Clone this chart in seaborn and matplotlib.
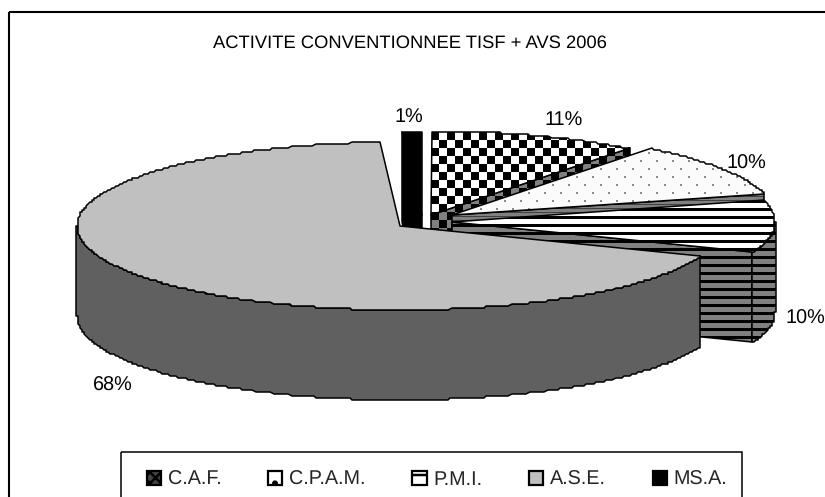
import numpy as np
import seaborn as sns
import matplotlib
matplotlib.use("Agg")
import matplotlib.pyplot as plt
from matplotlib.patches import Polygon, Rectangle, Patch

# ---- data ----
title = "ACTIVITE CONVENTIONNEE TISF + AVS 2006"
categories = ["C.A.F.", "C.P.A.M.", "P.M.I.", "A.S.E.", "MS.A."]
values = [10.6, 10.3, 10.1, 68, 1]

# ---- layout / style ----
W, H = 825, 497
RX, RY, DEPTH = 323, 84, 90
apex = [(431, 215), (452, 215), (452, 222), (400, 226), (422, 215)]
label_pos = [(564, 121), (746, 164), (805, 319), (113, 386), (409, 118)]
draw_order = [4, 0, 1, 2, 3]

sns.set_theme(style="white")
plt.rcParams["font.family"] = ["Liberation Sans", "DejaVu Sans"]
plt.rcParams["text.hinting"] = "no_hinting"
plt.rcParams["hatch.linewidth"] = 1.8
FS_TITLE, FS_LABEL, FS_LEGEND = 13.2, 14.3, 14.2

fig = plt.figure(figsize=(W / 100, H / 100), dpi=100, facecolor="white")
ax = fig.add_axes([0, 0, 1, 1])
ax.axis("off")

yy, xx = np.mgrid[0:H, 0:W]


def solid(c):
    return np.broadcast_to(np.array(matplotlib.colors.to_rgb(c)), (H, W, 3))


def two(mask, c1, c2):
    a = np.zeros((H, W, 3))
    a[mask] = matplotlib.colors.to_rgb(c1)
    a[~mask] = matplotlib.colors.to_rgb(c2)
    return a


check = ((xx - 431) // 8 + (yy - 132) // 8) % 2 == 0
stripe = (yy % 8) < 3
stripe_side = (yy % 8) < 3
dots = (((yy % 8) < 2) & (((xx + 8 * (yy // 8 % 2)) % 16) < 2))
row_side = (yy % 4) < 1

top_fill = [
    two(check, "black", "white"),
    two(dots, "#8a8a8a", "#fbfbfb"),
    two(stripe, "black", "white"),
    solid("#C0C0C0"),
    solid("black"),
]
side_fill = [
    two(check, "black", "#808080"),
    two(row_side, "#404040", "#808080"),
    two(stripe_side, "black", "#808080"),
    solid("#606060"),
    solid("black"),
]

z = [1]


def rim(cx, cy, a, b, n=None):
    n = n or max(2, int(abs(b - a)) * 2)
    t = np.radians(np.linspace(a, b, n))
    pts = np.column_stack([cx + RX * np.sin(t), cy - RY * np.cos(t)])
    return np.round(pts / 2) * 2  # stepped outline of the low-res original


def face(pts, fill):
    z[0] += 1
    patch = Polygon(pts, closed=True, fc="none", ec="black", lw=1.1,
                    zorder=z[0] + 0.5, joinstyle="round")
    ax.add_patch(patch)
    im = ax.imshow(fill, extent=(0, W, H, 0), interpolation="nearest",
                   aspect="auto", zorder=z[0])
    im.set_clip_path(patch)


edges = np.cumsum([0] + values) / sum(values) * 360
for i in draw_order:
    cx, cy = apex[i]
    a, b = edges[i], edges[i + 1]
    down = np.array([0, DEPTH])
    if 180 < a < 360:  # starting cut face turned to the viewer
        p = rim(cx, cy, a, a, 2)[0]
        face([(cx, cy), p, p + down, (cx, cy + DEPTH)], side_fill[i])
    if 0 < b < 180:  # ending cut face turned to the viewer
        p = rim(cx, cy, b, b, 2)[0]
        face([(cx, cy), p, p + down, (cx, cy + DEPTH)], side_fill[i])
    lo, hi = max(a, 90), min(b, 270)
    if hi > lo:
        r = rim(cx, cy, lo, hi)
        face(np.vstack([r, (r + down)[::-1]]), side_fill[i])
    face(np.vstack([[(cx, cy)], rim(cx, cy, a, b)]), top_fill[i])

for v, (x, y) in zip(values, label_pos):
    ax.text(x, y, f"{v:.0f}%", ha="center", va="center", fontsize=FS_LABEL, color="black",
            zorder=200)

ax.text(410, 43, title, ha="center", va="center", fontsize=FS_TITLE, color="black", zorder=200)

# chart frame (its right and bottom edges fall outside the crop)
ax.add_patch(Rectangle((9, 12), W + 20, H + 20, fill=False, ec="black", lw=1.5, zorder=150))

# legend box and entries
ax.add_patch(Rectangle((121, 452), 621, 80, fill=False, ec="black", lw=1.1, zorder=150))
handle_style = [
    dict(fc="#444444", hatch="xxx"),
    dict(fc="white", hatch="."),
    dict(fc="white", hatch="-"),
    dict(fc="#C0C0C0"),
    dict(fc="black"),
]
handles = [Patch(ec="black", lw=1.6, **s) for s in handle_style]
ax.legend(handles, categories, ncol=5, frameon=False, fontsize=FS_LEGEND,
          loc="center left", bbox_to_anchor=(147, 479.5), bbox_transform=ax.transData,
          borderpad=0, borderaxespad=0, handlelength=0.71, handleheight=0.71,
          handletextpad=0.33, columnspacing=2.39)

ax.set_xlim(0, W)
ax.set_ylim(H, 0)
fig.savefig("out.png", dpi=100, facecolor="white")
